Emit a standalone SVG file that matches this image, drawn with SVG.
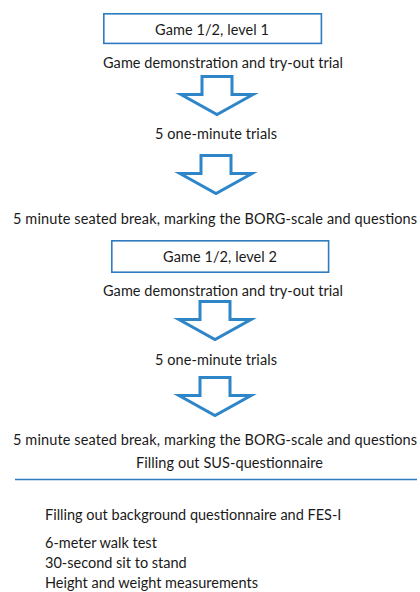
<svg xmlns="http://www.w3.org/2000/svg" xmlns:xlink="http://www.w3.org/1999/xlink" width="420" height="592" viewBox="0 0 420 592">
<style>
  text { font-family: Lato, "Liberation Sans", sans-serif; font-size: 14.5px; fill: #1a1a1a; }
  .box { fill: #ffffff; stroke: #2E7BBF; stroke-width: 1.6; }
  .blk { fill: #ffffff; stroke: #2E86C8; stroke-width: 3; stroke-linejoin: miter; }
  .rule { stroke: #2E7BBF; stroke-width: 1.5; }
</style>
<defs>
  <path id="blockArrow" class="blk" d="M-15,0 H15 V18 H36 L0,38 L-36,18 H-15 Z"/>
</defs>
<rect width="420" height="592" fill="#ffffff"/>
<g id="connectors">
  <use xlink:href="#blockArrow" transform="translate(217,76.5)"/>
  <use xlink:href="#blockArrow" transform="translate(216,155.5)"/>
  <use xlink:href="#blockArrow" transform="translate(215,301.5)"/>
  <use xlink:href="#blockArrow" transform="translate(215,377.5)"/>
  <line class="rule" x1="15" y1="479.5" x2="417" y2="479.5"/>
</g>
<g id="game1">
  <rect class="box" x="103.8" y="13.8" width="217.6" height="29.6"/>
  <text x="155" y="35" textLength="114">Game 1/2, level 1</text>
</g>
<g id="demo1">
  <text x="103" y="68" textLength="240">Game demonstration and try-out trial</text>
</g>
<g id="trials1">
  <text x="155" y="139" textLength="122">5 one-minute trials</text>
</g>
<g id="break1">
  <text x="13" y="224" textLength="404">5 minute seated break, marking the BORG-scale and questions</text>
</g>
<g id="game2">
  <rect class="box" x="111.8" y="240.8" width="216.8" height="31.4"/>
  <text x="163" y="262" textLength="114">Game 1/2, level 2</text>
</g>
<g id="demo2">
  <text x="103" y="296" textLength="240">Game demonstration and try-out trial</text>
</g>
<g id="trials2">
  <text x="155" y="365" textLength="122">5 one-minute trials</text>
</g>
<g id="break2">
  <text x="13" y="445" textLength="404">5 minute seated break, marking the BORG-scale and questions</text>
</g>
<g id="sus">
  <text x="136" y="467.5" textLength="187">Filling out SUS-questionnaire</text>
</g>
<g id="background">
  <text x="45" y="520">Filling out background questionnaire and FES-I</text>
  <text x="45" y="547.5">6-meter walk test</text>
  <text x="45" y="567.5">30-second sit to stand</text>
  <text x="45" y="587.5">Height and weight measurements</text>
</g>
</svg>
